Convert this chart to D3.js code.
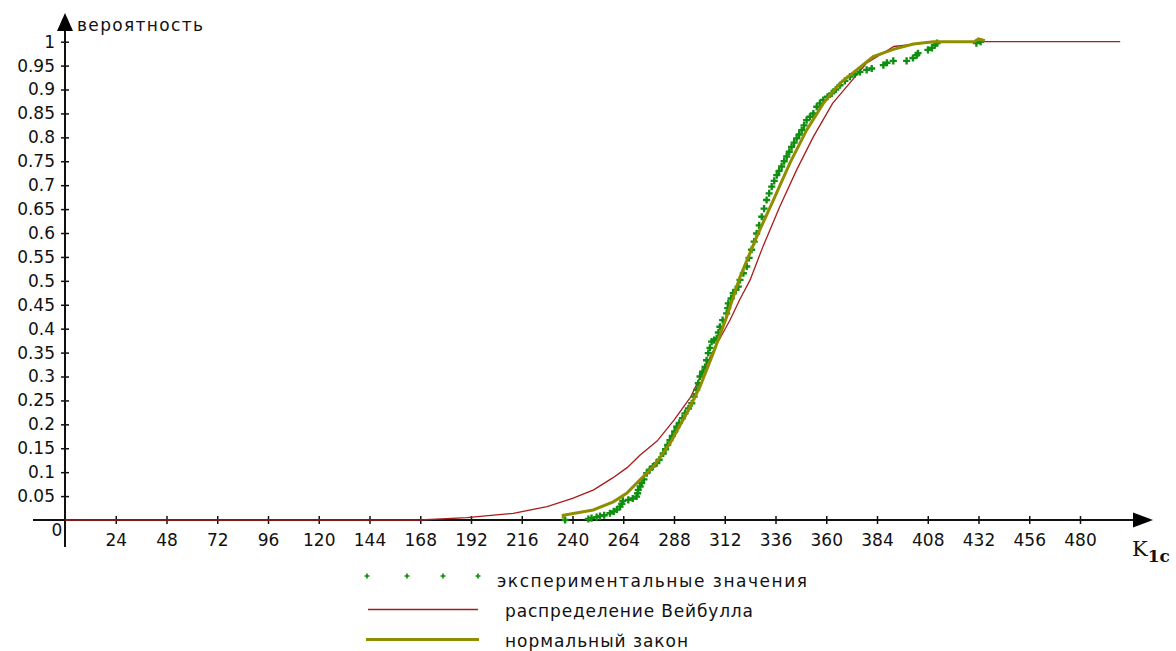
<!DOCTYPE html>
<html>
<head>
<meta charset="utf-8">
<script src="https://cdn.jsdelivr.net/npm/d3@7"></script>
<style>
  body { margin: 0; background: #fff; }
  text { font-family: "DejaVu Sans", sans-serif; fill: #111; }
</style>
</head>
<body>
<div id="root"></div>
<script>
// ticks
const xTicks = [24, 48, 72, 96, 120, 144, 168, 192, 216, 240, 264, 288, 312, 336, 360, 384, 408, 432, 456, 480];
const yTicks = [0.05, 0.1, 0.15, 0.2, 0.25, 0.3, 0.35, 0.4, 0.45, 0.5, 0.55, 0.6, 0.65, 0.7, 0.75, 0.8, 0.85, 0.9, 0.95, 1];

// распределение Вейбулла
const weibullX = [0, 168, 190, 212, 228, 240, 250, 259, 266, 272, 280, 288, 296, 302, 308, 314.5, 319, 324, 330, 338, 346, 354, 363, 371, 379, 392, 408, 432, 499];
const weibullP = [0, 0, 0.005, 0.014, 0.028, 0.045, 0.063, 0.088, 0.11, 0.136, 0.165, 0.209, 0.258, 0.314, 0.366, 0.418, 0.46, 0.502, 0.571, 0.655, 0.732, 0.802, 0.871, 0.913, 0.955, 0.99, 0.998, 1, 1];

// нормальный закон
const normalX = [235.6, 235.6, 249.8, 259.3, 265.6, 271.9, 278.2, 286.1, 294, 300.3, 306.6, 312.9, 319.2, 327.1, 335, 342.8, 350.7, 358.6, 366.5, 374.4, 382.2, 391.7, 401.2, 410.6, 430, 432, 435];
const normalP = [0.003, 0.01, 0.021, 0.038, 0.056, 0.084, 0.111, 0.16, 0.223, 0.279, 0.349, 0.425, 0.508, 0.592, 0.669, 0.746, 0.815, 0.871, 0.913, 0.941, 0.969, 0.984, 0.995, 1, 1, 1.006, 1.002];

// экспериментальные значения
const expX = [236.5, 247.5, 249, 251.4, 253, 255, 257.7, 259.5, 261, 262.5, 263.3, 263.8, 266.4, 268.5, 270.3, 270.8, 271.1, 272, 272.7, 273.8, 275.1, 276.5, 278, 279.8, 281, 282.9, 284, 285, 286.1, 287.2, 288.3, 289.3, 290.5, 292, 293.2, 294.8, 296.4, 297.5, 298.7, 299.5, 300.3, 301.5, 302.7, 303.4, 304.2, 305, 305.8, 307, 308.2, 309, 309.7, 311, 312.9, 313.4, 313.7, 315, 316, 317.2, 318.4, 319.2, 320.8, 322.4, 323.5, 324.7, 325.9, 327.1, 328.3, 329.5, 330.6, 331.8, 333, 334.2, 335.4, 336.6, 337.7, 338.9, 340.1, 341.3, 342.5, 343.6, 344.8, 346, 347.2, 348.4, 349.5, 350.7, 352.3, 353.9, 355.5, 357, 358.6, 360.6, 362.6, 364.5, 366.5, 368.8, 371.2, 373.5, 375.9, 379.1, 381.5, 387, 388.7, 391.7, 398, 401, 402.8, 403.4, 408.1, 410, 411.4, 412.4, 431, 433];
const expP = [0, 0.002, 0.004, 0.006, 0.008, 0.01, 0.014, 0.018, 0.022, 0.028, 0.034, 0.04, 0.042, 0.045, 0.049, 0.056, 0.063, 0.07, 0.077, 0.085, 0.098, 0.105, 0.112, 0.119, 0.126, 0.139, 0.148, 0.157, 0.167, 0.176, 0.185, 0.195, 0.203, 0.213, 0.223, 0.233, 0.244, 0.258, 0.272, 0.286, 0.3, 0.31, 0.32, 0.334, 0.349, 0.36, 0.373, 0.376, 0.38, 0.392, 0.404, 0.418, 0.432, 0.443, 0.453, 0.463, 0.474, 0.481, 0.488, 0.502, 0.516, 0.53, 0.548, 0.565, 0.582, 0.599, 0.616, 0.634, 0.651, 0.669, 0.683, 0.697, 0.709, 0.721, 0.73, 0.739, 0.75, 0.76, 0.77, 0.78, 0.789, 0.798, 0.806, 0.815, 0.825, 0.836, 0.843, 0.85, 0.864, 0.871, 0.878, 0.885, 0.892, 0.9, 0.909, 0.918, 0.927, 0.932, 0.937, 0.941, 0.944, 0.951, 0.956, 0.96, 0.96, 0.966, 0.972, 0.976, 0.983, 0.987, 0.993, 0.997, 0.997, 1];

const legendLabels = ["экспериментальные значения", "распределение Вейбулла", "нормальный закон"];

const width = 1176, height = 651;
const red = "#a81c1c", olive = "#8e8e00", green = "#0f8f0f";

const svg = d3.select("#root").append("svg")
    .attr("width", width)
    .attr("height", height);

const x = d3.scaleLinear().domain([0, 480]).range([65, 1080]);
const y = d3.scaleLinear().domain([0, 1]).range([520, 41.7]);

// axes
const xAxis = svg.append("g")
    .attr("transform", `translate(0, ${y(0)})`)
    .call(d3.axisBottom(x).tickValues(xTicks).tickSize(5).tickPadding(9).tickFormat(d3.format("d")));
xAxis.select(".domain").remove();
xAxis.selectAll(".tick line").attr("y1", -4).attr("y2", 4).attr("stroke", "#111").attr("stroke-width", 1.5);
xAxis.selectAll(".tick text").style("font-size", "17px").attr("fill", "#111");

const yAxis = svg.append("g")
    .attr("transform", `translate(${x(0)}, 0)`)
    .call(d3.axisLeft(y).tickValues(yTicks).tickSize(5).tickPadding(8).tickFormat(d => d3.format("")(+d.toFixed(2))));
yAxis.select(".domain").remove();
yAxis.selectAll(".tick line").attr("x1", -4).attr("x2", 4).attr("stroke", "#111").attr("stroke-width", 1.5);
yAxis.selectAll(".tick text").style("font-size", "17px").attr("fill", "#111").attr("x", -10);

// axis lines with arrows
svg.append("line")
    .attr("x1", 33).attr("x2", 1136)
    .attr("y1", y(0)).attr("y2", y(0))
    .attr("stroke", "#111").attr("stroke-width", 2);
svg.append("path")
    .attr("d", `M1133,${y(0) - 7.5}L1153,${y(0)}L1133,${y(0) + 7.5}Z`)
    .attr("fill", "#000");

svg.append("line")
    .attr("x1", x(0)).attr("x2", x(0))
    .attr("y1", 547).attr("y2", 28)
    .attr("stroke", "#111").attr("stroke-width", 2);
svg.append("path")
    .attr("d", `M${x(0) - 8},31L${x(0)},13L${x(0) + 8},31Z`)
    .attr("fill", "#000");

svg.append("text")
    .attr("x", 57).attr("y", 536)
    .attr("text-anchor", "middle")
    .style("font-size", "17px")
    .text("0");

svg.append("text")
    .attr("x", 77).attr("y", 31)
    .style("font-size", "17px")
    .attr("textLength", 126)
    .text("вероятность");

const kLabel = svg.append("text")
    .attr("x", 1132).attr("y", 556)
    .style("font-family", "'DejaVu Serif', 'Liberation Serif', serif")
    .style("font-size", "21px")
    .attr("fill", "#2a1a10");
kLabel.append("tspan").text("K");
kLabel.append("tspan").attr("dy", 6).style("font-size", "17px").style("font-weight", "bold").text("1c");

// curves
const line = d3.line().x(d => x(d[0])).y(d => y(d[1]));

svg.append("path")
    .datum(d3.zip(weibullX, weibullP))
    .attr("d", line)
    .attr("fill", "none")
    .attr("stroke", red)
    .attr("stroke-width", 1.3);

const plus = d3.symbol().type(d3.symbolCross).size(28);
svg.append("g")
    .selectAll("path")
    .data(d3.zip(expX, expP))
    .join("path")
    .attr("transform", d => `translate(${x(d[0])}, ${y(d[1])})`)
    .attr("d", plus)
    .attr("fill", green);

svg.append("path")
    .datum(d3.zip(normalX, normalP))
    .attr("d", line)
    .attr("fill", "none")
    .attr("stroke", olive)
    .attr("stroke-width", 3);

// legend
const legend = svg.append("g");
legend.selectAll("path.dot")
    .data([367, 407, 443, 478])
    .join("path")
    .attr("class", "dot")
    .attr("transform", d => `translate(${d}, 576)`)
    .attr("d", d3.symbol().type(d3.symbolCross).size(14))
    .attr("fill", green);
legend.append("line")
    .attr("x1", 368).attr("x2", 478).attr("y1", 609.5).attr("y2", 609.5)
    .attr("stroke", red).attr("stroke-width", 1.3);
legend.append("line")
    .attr("x1", 366).attr("x2", 479).attr("y1", 639.5).attr("y2", 639.5)
    .attr("stroke", olive).attr("stroke-width", 3);

const legendPos = [[497, 587, 310], [505, 617, 248], [505, 647, 183]];
legend.selectAll("text")
    .data(legendLabels)
    .join("text")
    .attr("x", (d, i) => legendPos[i][0])
    .attr("y", (d, i) => legendPos[i][1])
    .attr("textLength", (d, i) => legendPos[i][2])
    .style("font-size", "17px")
    .text(d => d);
</script>
</body>
</html>
